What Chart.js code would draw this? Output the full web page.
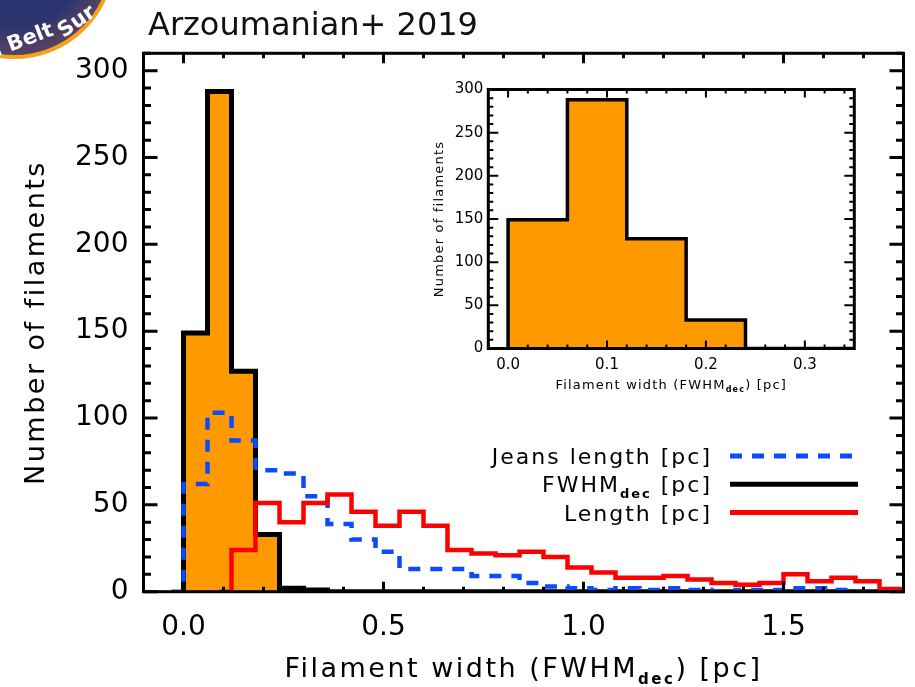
<!DOCTYPE html>
<html>
<head>
<meta charset="utf-8">
<script src="https://cdn.jsdelivr.net/npm/chart.js@4.4.1/dist/chart.umd.min.js"></script>
<style>
  html, body { margin: 0; padding: 0; background: #fff; }
  #wrap { position: relative; width: 915px; height: 687px; overflow: hidden; }
  #main { position: absolute; left: 0; top: 0; }
  #inset { position: absolute; left: 400px; top: 70px; }
  #title { position: absolute; left: 148px; top: 8px; font: 32px "DejaVu Sans", sans-serif; line-height: 32px; color: #111; white-space: nowrap; }
  #logo { position: absolute; left: -87px; top: -143px; width: 202px; height: 202px; box-sizing: border-box;
          border-radius: 50%; border: 4px solid #f7a01a;
          background: radial-gradient(circle at 50% 50%, #24306a 0%, #2b346e 50%, #5e4660 74%, #a8642e 90%, #c27a30 100%); }
  .logoText { position: absolute; font: bold 21px "DejaVu Sans", sans-serif; line-height: 21px; color: #fff;
              transform-origin: 0 17.8px; white-space: nowrap; }
  #logo1 { left: -3px; top: 40px; transform: rotate(-21deg); }
  #logo2 { left: 64px; top: 21px; transform: rotate(-35deg); }
</style>
</head>
<body>
<div id="wrap">
  <canvas id="main" width="915" height="687"></canvas>
  <canvas id="inset" width="470" height="330"></canvas>
  <div id="logo"></div>
  <div class="logoText" id="logo1">l Belt</div>
  <div class="logoText" id="logo2">Sur</div>
  <div id="title">Arzoumanian+ 2019</div>
</div>
<script>
// tick labels
const xTicks = [0.0, 0.5, 1.0, 1.5];
const yTicks = [0, 50, 100, 150, 200, 250, 300];
const insetXTicks = [0.0, 0.1, 0.2, 0.3];
const insetYTicks = [0, 50, 100, 150, 200, 250, 300];

// histograms: bin edges [pc] and counts per bin
const jeansEdges = [-0.03, 0.00, 0.06, 0.12, 0.18, 0.24, 0.30, 0.36, 0.42, 0.48, 0.54, 0.60, 0.66, 0.72, 0.78, 0.84,
                    0.90, 0.96, 1.02, 1.08, 1.14, 1.20, 1.26, 1.32, 1.38, 1.44, 1.50, 1.56, 1.62, 1.68, 1.74, 1.80];
const jeansCounts = [0, 62, 103, 87, 70, 68, 55, 39, 30, 23, 13, 13, 13, 9, 9, 5,
                     3, 2, 1, 2, 1, 2, 1, 0, 1, 1, 2, 2, 1, 0, 0];

const fwhmEdges = [0.00, 0.06, 0.12, 0.18, 0.24, 0.30, 0.36, 1.80];
const fwhmCounts = [149, 288, 127, 33, 2, 1, 0];

const lengthEdges = [0.09, 0.12, 0.18, 0.24, 0.30, 0.36, 0.42, 0.48, 0.54, 0.60, 0.66, 0.72, 0.78, 0.84, 0.90,
                     0.96, 1.02, 1.08, 1.14, 1.20, 1.26, 1.32, 1.38, 1.44, 1.50, 1.56, 1.62, 1.68, 1.74, 1.80];
const lengthCounts = [0, 24, 51, 40, 51, 56, 46, 38, 46, 38, 24, 22, 21, 23, 20,
                      14, 11, 8, 8, 9, 7, 5, 4, 5, 10, 6, 8, 6, 1.5];

const insetEdges = [0.00, 0.06, 0.12, 0.18, 0.24, 0.35];
const insetCounts = [149, 288, 127, 33, 0];

const FONT = '"DejaVu Sans", sans-serif';

function steps(edges, counts) {
  const pts = [{x: edges[0], y: 0}];
  counts.forEach((c, i) => pts.push({x: edges[i], y: c}));
  pts.push({x: edges[edges.length - 1], y: counts[counts.length - 1]});
  return pts;
}

// text with _{sub} parts
function drawRich(ctx, text, x, y, align, f) {
  const parts = text.split(/_\{(.*?)\}/).map((s, i) => ({s, sub: i % 2 === 1})).filter(p => p.s);
  ctx.save();
  ctx.letterSpacing = f.spacing + 'px';
  ctx.textAlign = 'left';
  ctx.textBaseline = 'alphabetic';
  ctx.fillStyle = '#000';
  let w = 0;
  parts.forEach(p => { ctx.font = p.sub ? f.sub : f.main; p.w = ctx.measureText(p.s).width; w += p.w; });
  let cx = align === 'right' ? x - w : align === 'center' ? x - w / 2 : x;
  parts.forEach(p => {
    ctx.font = p.sub ? f.sub : f.main;
    ctx.fillText(p.s, cx, y + (p.sub ? f.subDy : 0));
    cx += p.w;
  });
  ctx.restore();
}

// IDL-like box: inward ticks on all four sides, titles, legend
const idlFrame = {
  id: 'idlFrame',
  afterDatasetsDraw(chart, args, o) {
    const {ctx, chartArea: a, scales: {x, y}} = chart;
    ctx.save();
    ctx.strokeStyle = '#000';
    ctx.lineWidth = o.tickWidth;
    ctx.beginPath();
    const isMajor = (list, v) => list.some(m => Math.abs(m - v) < 1e-9);
    for (let k = Math.ceil(x.min / o.xMinor - 1e-9); k * o.xMinor <= x.max + 1e-9; k++) {
      const v = k * o.xMinor;
      const len = isMajor(o.xMajor, v) ? o.xLen[0] : o.xLen[1];
      const px = x.getPixelForValue(v);
      ctx.moveTo(px, a.bottom); ctx.lineTo(px, a.bottom - len);
      ctx.moveTo(px, a.top); ctx.lineTo(px, a.top + len);
    }
    for (let k = Math.ceil(y.min / o.yMinor - 1e-9); k * o.yMinor <= y.max + 1e-9; k++) {
      const v = k * o.yMinor;
      const len = isMajor(o.yMajor, v) ? o.yLen[0] : o.yLen[1];
      const py = y.getPixelForValue(v);
      ctx.moveTo(a.left, py); ctx.lineTo(a.left + len, py);
      ctx.moveTo(a.right, py); ctx.lineTo(a.right - len, py);
    }
    ctx.stroke();
    ctx.lineWidth = o.frameWidth;
    ctx.strokeRect(a.left, a.top, a.right - a.left, a.bottom - a.top);
    ctx.restore();

    // axis titles
    drawRich(ctx, o.xTitle, (a.left + a.right) / 2, a.bottom + o.xTitleOffset, 'center', o.titleFont);
    ctx.save();
    ctx.translate(o.yTitleX, (a.top + a.bottom) / 2);
    ctx.rotate(-Math.PI / 2);
    drawRich(ctx, o.yTitle, 0, 0, 'center', o.titleFont);
    ctx.restore();

    // legend: text right-aligned, line sample on its right
    if (o.legend) {
      const L = o.legend;
      chart.data.datasets.forEach((ds, i) => {
        const ry = L.top + i * L.rowGap;
        drawRich(ctx, ds.label, L.textRight, ry + L.baseShift, 'right', L.font);
        ctx.save();
        ctx.strokeStyle = ds.borderColor;
        ctx.lineWidth = L.lineWidth;
        ctx.setLineDash(ds.borderDash || []);
        ctx.beginPath();
        ctx.moveTo(L.lineFrom, ry);
        ctx.lineTo(L.lineTo, ry);
        ctx.stroke();
        ctx.restore();
      });
    }
  }
};

Chart.defaults.font.family = FONT;
Chart.defaults.color = '#000';

new Chart(document.getElementById('main'), {
  type: 'line',
  data: {
    datasets: [{
      label: 'Jeans length [pc]',
      data: steps(jeansEdges, jeansCounts),
      stepped: true,
      borderColor: '#0a4bff',
      borderWidth: 4.5,
      borderDash: [12, 10],
      pointRadius: 0,
      fill: false,
      order: 2
    }, {
      label: 'FWHM_{dec} [pc]',
      data: steps(fwhmEdges, fwhmCounts),
      stepped: true,
      borderColor: '#000000',
      borderWidth: 5,
      backgroundColor: '#ff9900',
      pointRadius: 0,
      fill: 'origin',
      order: 3
    }, {
      label: 'Length [pc]',
      data: steps(lengthEdges, lengthCounts),
      stepped: true,
      borderColor: '#ff0000',
      borderWidth: 4.5,
      pointRadius: 0,
      fill: false,
      order: 1
    }]
  },
  options: {
    responsive: false,
    animation: false,
    layout: {padding: {left: 0, right: 11.5, top: 53.3, bottom: 0}},
    plugins: {
      legend: {display: false},
      tooltip: {enabled: false},
      idlFrame: {
        xMajor: xTicks, xMinor: 0.1, xLen: [10, 5],
        yMajor: yTicks, yMinor: 10, yLen: [14, 7.5],
        tickWidth: 3, frameWidth: 3,
        xTitle: 'Filament width (FWHM_{dec}) [pc]', xTitleOffset: 85,
        yTitle: 'Number of filaments', yTitleX: 43.5,
        titleFont: {main: '27px ' + FONT, sub: 'bold 15px ' + FONT, subDy: 7, spacing: 2.5},
        legend: {
          textRight: 712, top: 456, rowGap: 28.3, baseShift: 8,
          lineFrom: 730, lineTo: 858, lineWidth: 5,
          font: {main: '22px ' + FONT, sub: 'bold 13px ' + FONT, subDy: 6, spacing: 2}
        }
      }
    },
    scales: {
      x: {
        type: 'linear', min: -0.1, max: 1.8,
        afterFit: s => { s.height = 95.3; },
        afterBuildTicks: s => { s.ticks = xTicks.map(v => ({value: v})); },
        grid: {display: false, drawTicks: false},
        border: {display: false},
        ticks: {padding: 19, autoSkip: false, maxRotation: 0, font: {size: 28}, callback: v => v.toFixed(1)}
      },
      y: {
        type: 'linear', min: 0, max: 310,
        afterFit: s => { s.width = 143.5; },
        afterBuildTicks: s => { s.ticks = yTicks.map(v => ({value: v})); },
        grid: {display: false, drawTicks: false},
        border: {display: false},
        ticks: {padding: 15, font: {size: 28}, callback: v => String(v)}
      }
    }
  },
  plugins: [idlFrame]
});

new Chart(document.getElementById('inset'), {
  type: 'line',
  data: {
    datasets: [{
      label: 'FWHM_{dec} [pc]',
      data: steps(insetEdges, insetCounts),
      stepped: true,
      borderColor: '#000000',
      borderWidth: 3.5,
      backgroundColor: '#ff9900',
      pointRadius: 0,
      fill: 'origin'
    }]
  },
  options: {
    responsive: false,
    animation: false,
    layout: {padding: {left: 0, right: 15.7, top: 19.5, bottom: 0}},
    plugins: {
      legend: {display: false},
      tooltip: {enabled: false},
      idlFrame: {
        xMajor: insetXTicks, xMinor: 0.02, xLen: [8, 4],
        yMajor: insetYTicks, yMinor: 10, yLen: [10, 5],
        tickWidth: 2, frameWidth: 3,
        xTitle: 'Filament width (FWHM_{dec}) [pc]', xTitleOffset: 40.5,
        yTitle: 'Number of filaments', yTitleX: 43.3,
        titleFont: {main: '13px ' + FONT, sub: 'bold 8px ' + FONT, subDy: 3, spacing: 1.2},
        legend: null
      }
    },
    scales: {
      x: {
        type: 'linear', min: -0.02, max: 0.35,
        afterFit: s => { s.height = 51.5; },
        afterBuildTicks: s => { s.ticks = insetXTicks.map(v => ({value: v})); },
        grid: {display: false, drawTicks: false},
        border: {display: false},
        ticks: {padding: 8, autoSkip: false, maxRotation: 0, font: {size: 15}, callback: v => v.toFixed(1)}
      },
      y: {
        type: 'linear', min: 0, max: 300,
        afterFit: s => { s.width = 88.3; },
        afterBuildTicks: s => { s.ticks = insetYTicks.map(v => ({value: v})); },
        grid: {display: false, drawTicks: false},
        border: {display: false},
        ticks: {padding: 5, font: {size: 15}, callback: v => String(v)}
      }
    }
  },
  plugins: [idlFrame]
});
</script>
</body>
</html>
